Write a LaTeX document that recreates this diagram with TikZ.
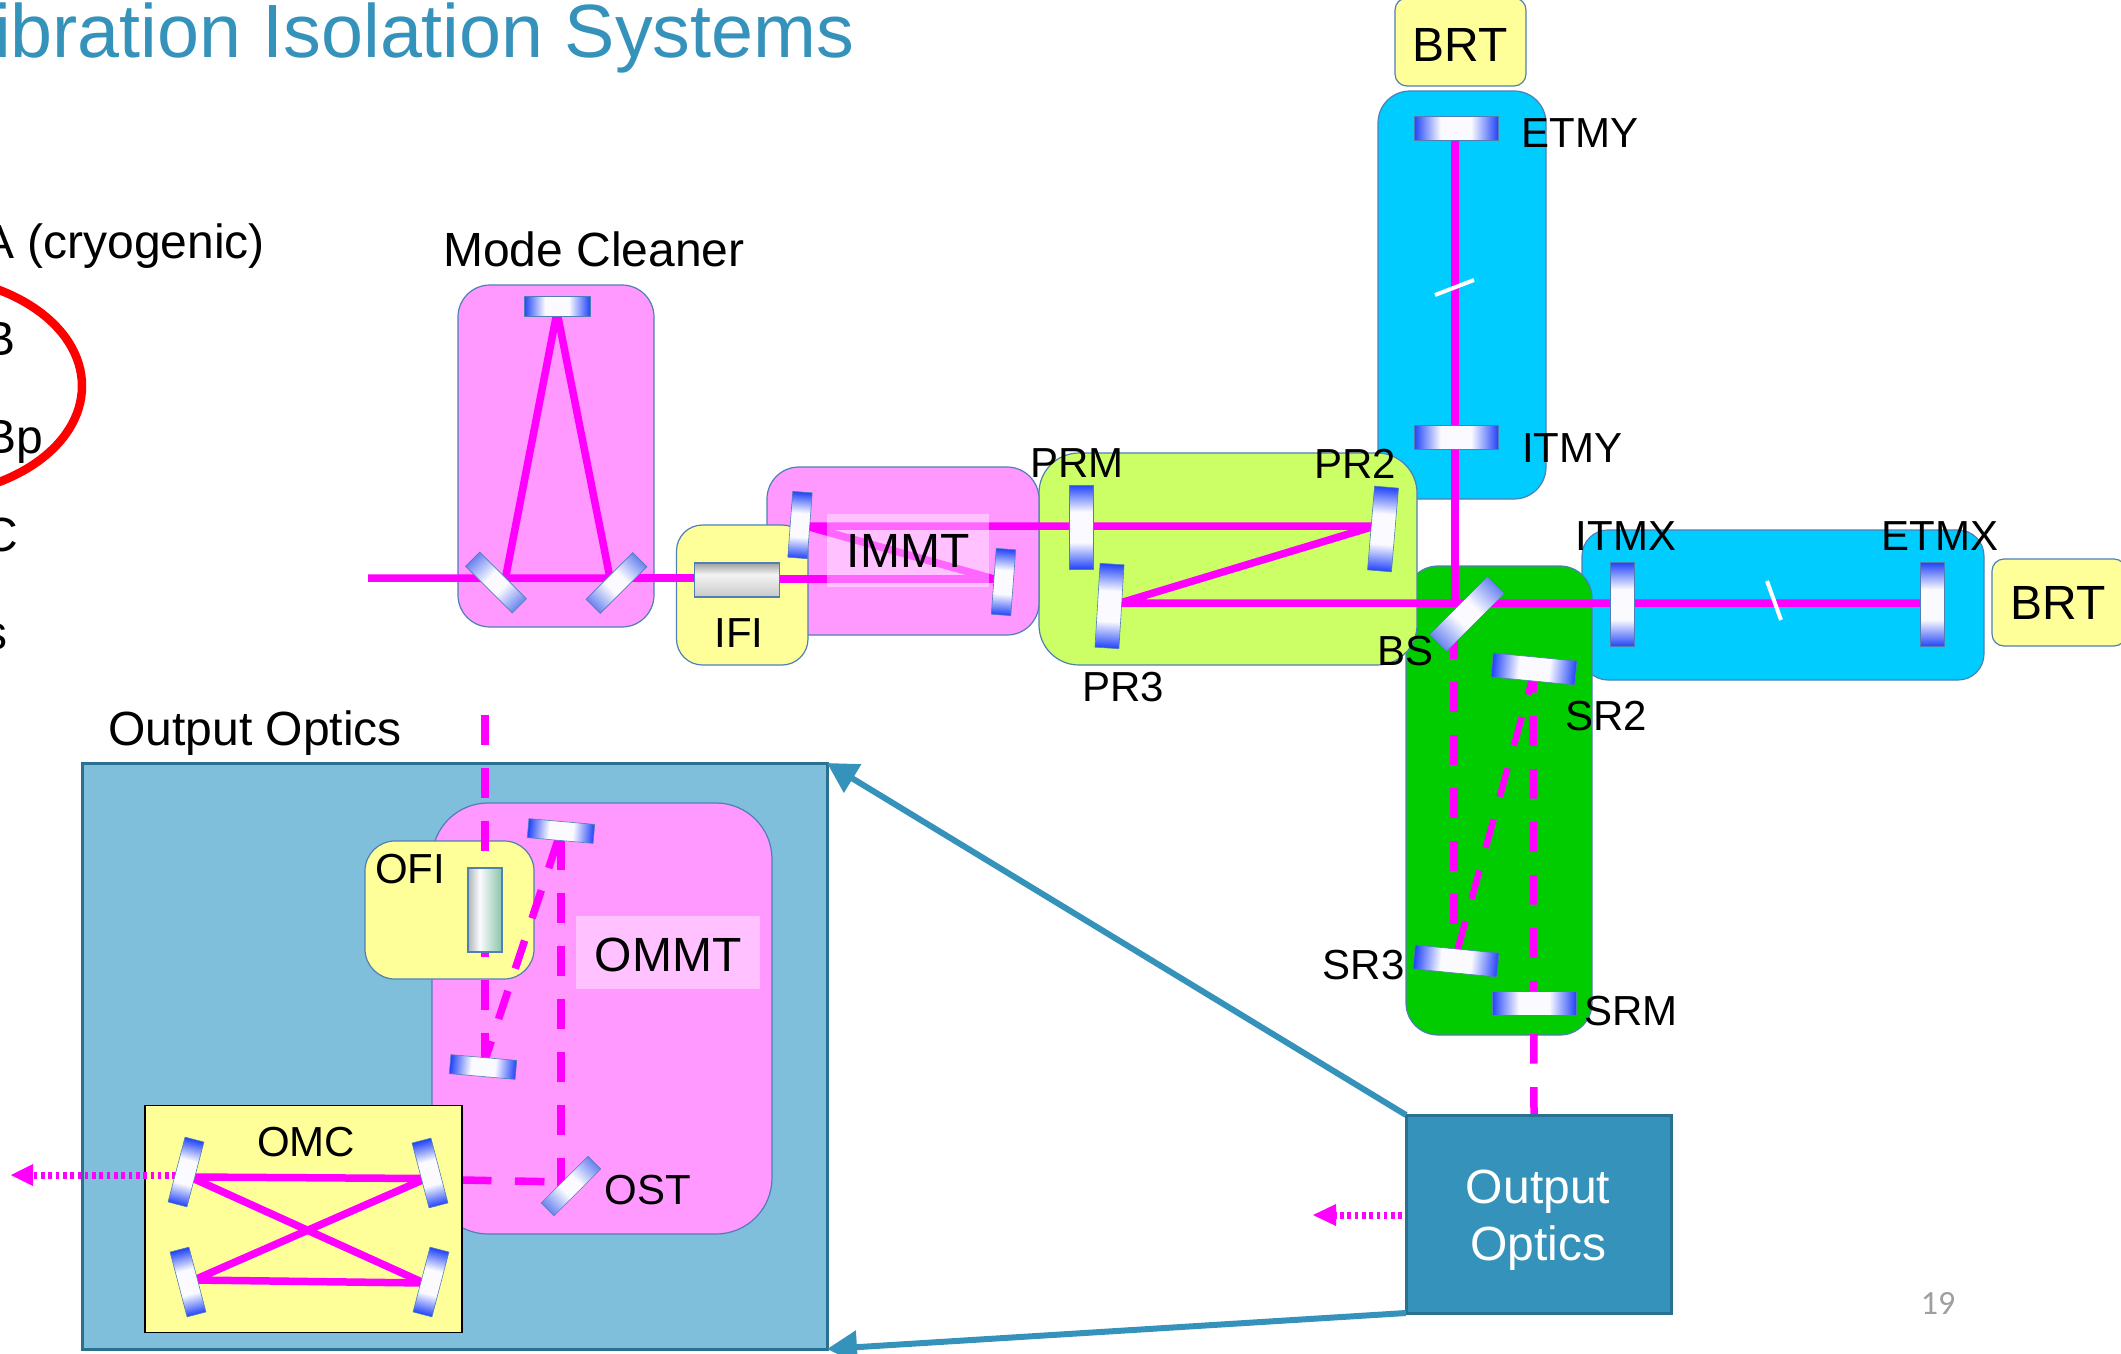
\documentclass[tikz,border=0pt]{standalone}
\usepackage{fontspec}
\setmainfont{Liberation Sans}
\newfontfamily\numfont{Carlito}
\usetikzlibrary{arrows.meta}
\definecolor{beamc}{HTML}{FF00FF}
\definecolor{pinkc}{HTML}{FF99FF}
\definecolor{yelc}{HTML}{FFFF99}
\definecolor{bluec}{HTML}{00CCFF}
\definecolor{grnc}{HTML}{00CC00}
\definecolor{limec}{HTML}{CCFF66}
\definecolor{edgec}{HTML}{4F7FB5}
\definecolor{tealc}{HTML}{3592BA}
\definecolor{tealb}{HTML}{2A7090}
\definecolor{skyc}{HTML}{80BFDB}
\definecolor{mblue}{HTML}{2244F8}
\definecolor{msoft}{HTML}{6A84F0}
\definecolor{mwhite}{HTML}{FBFBFF}
\definecolor{ofig}{HTML}{88C4A8}
\definecolor{ofil}{HTML}{AEB4B4}
\definecolor{ifit}{HTML}{A0A0A0}
\definecolor{ifib}{HTML}{C8C8C8}
\definecolor{ifim}{HTML}{F4F4F4}
\pgfdeclarehorizontalshading{mirrorsh}{100bp}{color(0bp)=(mblue);color(25bp)=(mblue);color(41bp)=(mwhite);color(59bp)=(mwhite);color(75bp)=(mblue);color(100bp)=(mblue)}
\pgfdeclarehorizontalshading{mirrorsf}{100bp}{color(0bp)=(msoft);color(25bp)=(msoft);color(44bp)=(mwhite);color(56bp)=(mwhite);color(75bp)=(msoft);color(100bp)=(msoft)}
\pgfdeclarehorizontalshading{ofish}{100bp}{color(0bp)=(ofil);color(25bp)=(ofil);color(42bp)=(mwhite);color(75bp)=(ofig);color(100bp)=(ofig)}
\pgfdeclareverticalshading{ifish}{100bp}{color(0bp)=(ifib);color(25bp)=(ifib);color(58bp)=(ifim);color(75bp)=(ifit);color(100bp)=(ifit)}
\tikzset{
  boxbase/.style={draw=edgec,line width=1.2pt,inner sep=0pt,outer sep=0pt},
  rbox/.style 2 args={boxbase,fill=#1,rounded corners=#2},
  mirror/.style 2 args={draw=edgec,line width=0.6pt,inner sep=0pt,outer sep=0pt,minimum width=#1,minimum height=#2,
     shade,shading=mirrorsh},
  softm/.style={shading=mirrorsf},
  beam/.style={draw=beamc,line width=7.5pt,line join=bevel},
  dbeam/.style={draw=beamc,line width=7.5pt,dash pattern=on 29.5pt off 23.5pt},
  dotbeam/.style={draw=beamc,line width=7pt,dash pattern=on 3.6pt off 3.7pt},
  slit/.style={draw=white,line width=4pt},
  lab/.style={inner sep=0pt,font=\fontsize{42}{46}\selectfont,text=black},
  labb/.style={inner sep=0pt,font=\fontsize{48}{52}\selectfont,text=black},
  wash/.style={fill=white,fill opacity=.4,inner sep=0pt,outer sep=0pt},
  tealline/.style={draw=tealc,line width=6pt,-{Triangle[length=30pt,width=32pt]}},
}
% name, x0, y0, x1, y1, style
\newcommand{\bx}[6]{%
  \pgfmathsetmacro\cxx{(#2+#4)/2}\pgfmathsetmacro\cyy{(#3+#5)/2}%
  \pgfmathsetmacro\ww{#4-#2}\pgfmathsetmacro\hh{#5-#3}%
  \node[#6,minimum width=\ww pt,minimum height=\hh pt] (#1) at (\cxx,\cyy) {};}
% name, x, y, angle, length, thickness
\newcommand{\mir}[6]{%
  \begin{scope}[transform canvas={shift={(#2,#3)},rotate=#4}]
  \node[mirror={#5pt}{#6pt}] (#1) at (0,0) {};
  \end{scope}}
\newcommand{\mirs}[6]{%
  \begin{scope}[transform canvas={shift={(#2,#3)},rotate=#4}]
  \node[mirror={#5pt}{#6pt},softm] (#1) at (0,0) {};
  \end{scope}}
\begin{document}
\begin{tikzpicture}[x=1pt,y=-1pt]
\path[use as bounding box] (0,0) rectangle (2121,1354);
\clip (0,0) rectangle (2121,1354);
% title and list
\node[anchor=base east,inner sep=0pt,text=tealc,font=\fontsize{75.5}{80}\selectfont] (title) at (854.5,58) {Vibration Isolation Systems};
\node[labb,anchor=base east] (lA) at (265,258) {A (cryogenic)};
\node[labb,anchor=base east] (lB) at (16,355) {B};
\node[labb,anchor=base east] (lBp) at (43,453) {Bp};
\node[labb,anchor=base east] (lC) at (18,551) {C};
\node[labb,anchor=base east] (lS) at (8,649) {s};
\draw[red,line width=8.5pt] (-80,386) ellipse [x radius=162,y radius=110];
\node[labb,anchor=base] (lMC) at (594,266.5) {Mode Cleaner};
\node[labb,anchor=base] (lOO) at (255,745.5) {Output Optics};
% arms
\bx{armx}{1582}{530}{1984}{680}{rbox={bluec}{26pt}}
\bx{army}{1378}{91}{1546}{499}{rbox={bluec}{32pt}}
\bx{brty}{1395}{-2}{1526}{86}{rbox={yelc}{12pt}}
\bx{brtx}{1992}{559}{2126}{646}{rbox={yelc}{12pt}}
\bx{sr}{1406}{566}{1592}{1035}{rbox={grnc}{32pt}}
\bx{pr}{1039}{453}{1417}{665}{rbox={limec}{40pt}}
% input optics
\bx{mc}{458}{285}{654}{627}{rbox={pinkc}{32pt}}
\bx{immt}{767}{467}{1039}{635}{rbox={pinkc}{32pt}}
% beam points
\coordinate (inS) at (368,578);
\coordinate (mcL) at (505.5,578);
\coordinate (mcR) at (610,578);
\coordinate (mcT) at (557,312);
\coordinate (ifiL) at (700,578);
\coordinate (ifiR) at (775,579);
\coordinate (imR) at (994,579);
\coordinate (imL) at (806,526);
\coordinate (pr2p) at (1375,526);
\coordinate (pr3p) at (1120,603);
\coordinate (etmxp) at (1925,603);
\coordinate (etmyp) at (1455,135);
\coordinate (bsp) at (1455,603);
% beams in the input section
\draw[beam] (imR) -- (imL) -- (pr2p) -- (pr3p) -- (etmxp);
\draw[beam] (inS) -- (mcR) -- (mcT) -- (mcL);
\draw[beam] (etmyp) -- (bsp);
% dashed beams in signal recycling
\coordinate (bsd) at (1454,629);
\coordinate (sr3p) at (1454,946);
\coordinate (sr3q) at (1457.5,950);
\coordinate (sr2p) at (1532.5,678);
\coordinate (srq) at (1533,663);
\coordinate (oot) at (1534,1115);
\draw[dbeam] (bsd) -- (sr3p);
\draw[dbeam,line width=6.5pt] (sr3q) -- (sr2p);
\draw[dbeam] (srq) -- (oot);
% yellow input box
\bx{ifi}{676.5}{525}{808}{665}{rbox={yelc}{26pt}}
\draw[beam] (mcR) -- (ifiL);
\draw[beam] (ifiR) -- (imR);
\node[draw=edgec,line width=1.2pt,inner sep=0pt,minimum width=84.5pt,minimum height=34pt,shade,shading=ifish] (ifielem) at (737,580) {};
\node[lab] (lifi) at (739,633) {IFI};
% white wash and IMMT
\bx{immtw}{827}{514}{989}{587}{wash}
\node[labb] (limmt) at (908,551) {IMMT};
% mirrors, upper part
\mir{mcm1}{557}{306}{0}{66}{20}
\mirs{mcm2}{496}{582.5}{-45}{66}{20}
\mirs{mcm3}{616.5}{583}{45}{66}{20}
\mir{imm1}{800}{525}{85.7}{66}{19.5}
\mir{imm2}{1003.5}{582}{85.7}{66}{19.5}
\mir{prm}{1081}{527}{90}{84}{24}
\mir{pr3}{1109.5}{606}{86.5}{84}{24}
\mir{pr2}{1383}{529}{85.2}{84}{24}
\mir{etmy}{1456}{128}{0}{84}{24}
\mir{itmy}{1456}{437}{0}{84}{24}
\mir{itmx}{1622.5}{604.5}{90}{84}{24}
\mir{etmx}{1932.6}{604.5}{90}{84}{24}
\mirs{bs}{1467}{614}{45}{82}{24}
\mir{sr2}{1534}{669}{-5.5}{84}{24}
\mir{sr3}{1456}{961}{-5.5}{84}{24}
\mir{srm}{1534}{1003}{0}{84}{24}
\coordinate (sya) at (1435,295); \coordinate (syb) at (1474,280);
\coordinate (sxa) at (1767,581); \coordinate (sxb) at (1781,620);
\draw[slit] (sya) -- (syb);
\draw[slit] (sxa) -- (sxb);
% labels, upper part
\node[labb] (lbrty) at (1460,45) {BRT};
\node[labb] (lbrtx) at (2058,603) {BRT};
\node[lab,anchor=west] (letmy) at (1521.5,133) {ETMY};
\node[lab,anchor=west] (litmy) at (1522,448) {ITMY};
\node[lab] (litmx) at (1626,536) {ITMX};
\node[lab] (letmx) at (1940,536) {ETMX};
\node[lab] (lprm) at (1077,463) {PRM};
\node[lab] (lpr2) at (1355,464) {PR2};
\node[lab] (lpr3) at (1123,687) {PR3};
\node[lab] (lbs) at (1405,651) {BS};
\node[lab] (lsr2) at (1606,716) {SR2};
\node[lab] (lsr3) at (1363.5,965) {SR3};
\node[lab] (lsrm) at (1631,1011) {SRM};
% output optics small box
\bx{outbox}{1406}{1115}{1671}{1313}{draw=tealb,line width=3pt,fill=tealc,inner sep=0pt,outer sep=0pt}
\node[align=center,inner sep=0pt,text=white,font=\fontsize{48}{57}\selectfont] (loutbox) at (1538,1220) {Output\\Optics};
\coordinate (dotS) at (1402,1215);
\coordinate (dotE) at (1336,1215);
\coordinate (dotT) at (1313,1215);
\draw[dotbeam] (dotS) -- (dotE);
\fill[beamc] (dotT) -- (1336,1204) -- (1336,1226) -- cycle;
% output optics big box
\bx{bigbox}{82}{763}{827}{1349}{draw=tealb,line width=3pt,fill=skyc,inner sep=0pt,outer sep=0pt}
\draw[tealline] (outbox.north west) -- (bigbox.north east);
\draw[tealline] (outbox.south west) -- (bigbox.south east);
\bx{ommt}{432}{803}{772}{1234}{rbox={pinkc}{56pt}}
\coordinate (ofiT) at (485,715);
\coordinate (lowm) at (485,1060);
\coordinate (topq) at (558,840);
\coordinate (ostT) at (561,840);
\coordinate (ostC) at (561,1186);
\coordinate (ostL) at (564,1182);
\coordinate (omcR) at (462,1180);
\bx{ommtw}{576}{916}{760}{989}{wash}
\node[labb] (lommt) at (668,955) {OMMT};
\bx{ofi}{365}{841}{534}{979}{rbox={yelc}{30pt}}
\draw[dbeam] (ofiT) -- (lowm);
\draw[dbeam] (topq) -- (lowm);
\draw[dbeam] (ostT) -- (ostC);
\draw[dbeam] (omcR) -- (ostL);
\node[draw=edgec,line width=1.2pt,inner sep=0pt,minimum width=34pt,minimum height=84pt,shade,shading=ofish] (ofielem) at (485,910) {};
\node[lab] (lofi) at (410,869.5) {OFI};
\mir{omm1}{561}{831}{-5}{66}{19}
\mir{omm2}{483}{1067}{-5}{66}{19}
\mirs{ost}{571}{1186}{45}{66}{18}
\node[lab] (lost) at (648,1190) {OST};
% OMC
\bx{omc}{145}{1105.5}{462}{1332.5}{draw=black,line width=1.5pt,fill=yelc,inner sep=0pt,outer sep=0pt}
\node[lab] (lomc) at (306,1142) {OMC};
\coordinate (tl) at (190,1177);
\coordinate (tr) at (426,1178.5);
\coordinate (bl) at (194,1280);
\coordinate (br) at (424,1283);
\draw[beam] (tl) -- (tr) -- (bl) -- (br) -- cycle;
\coordinate (omS) at (176,1175);
\coordinate (omE) at (33,1175);
\coordinate (omT) at (11,1175);
\draw[dotbeam] (omS) -- (omE);
\fill[beamc] (omT) -- (33,1164) -- (33,1186) -- cycle;
\mir{om1}{186}{1172}{75.3}{67}{19.5}
\mir{om2}{430}{1173}{104.7}{67}{19.5}
\mir{om3}{188}{1282}{104.7}{67}{19.5}
\mir{om4}{431}{1282}{75.3}{67}{19.5}
\node[inner sep=0pt,text=gray!75,font=\numfont\fontsize{34}{36}\selectfont] (pg) at (1938,1303) {19};
\end{tikzpicture}
\end{document}
